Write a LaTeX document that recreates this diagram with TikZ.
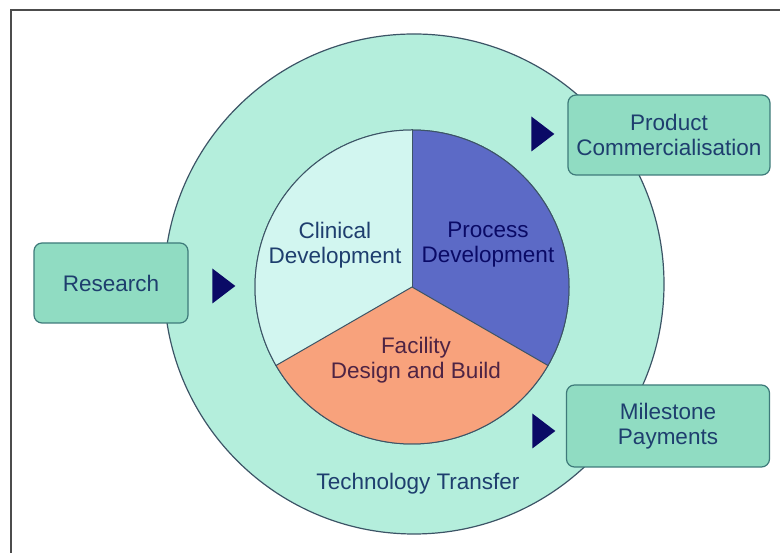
\documentclass[tikz,border=0pt]{standalone}
\usepackage{fontspec}
\setmainfont{Liberation Sans}
\usepackage{xcolor}
\usepackage{tikz}
\usetikzlibrary{shapes, shapes.geometric, positioning}

\definecolor{ringfill}{HTML}{B4EEDC}
\definecolor{clinfill}{HTML}{D2F6F0}
\definecolor{procfill}{HTML}{5C6AC6}
\definecolor{facfill}{HTML}{F8A27C}
\definecolor{boxfill}{HTML}{90DCC2}
\definecolor{boxline}{HTML}{3E7A7A}
\definecolor{edge}{HTML}{3C5466}
\definecolor{navy}{HTML}{0A0A66}
\definecolor{label}{HTML}{1E3E6E}
\definecolor{faclabel}{HTML}{4E2444}

\begin{document}
\begin{tikzpicture}
  [
    x=1pt, y=1pt,
    Ring/.style={circle, draw=edge, fill=ringfill, line width=1.2pt, inner sep=0pt, minimum size=500pt},
    Core/.style={circle, draw=edge, line width=1pt, inner sep=0pt, minimum size=314pt},
    Box/.style={rectangle, rounded corners=8pt, draw=boxline, fill=boxfill, line width=1.2pt, align=center, text=label, font=\fontsize{22.5}{25}\selectfont},
    Arrow/.style={isosceles triangle, isosceles triangle stretches, fill=navy, inner sep=0pt, minimum width=35pt, minimum height=23pt},
    Label/.style={align=center, text=label, font=\fontsize{22.5}{25}\selectfont}
  ]
  \useasboundingbox (0,0) rectangle (780,553);
  % Frame
  \draw[line width=1.5pt, black!70] (11,0) -- (11,543) -- (780,543);
  % Circles
  \node[Ring] (ring) at(414, 269) {};
  \node[Core] (core) at(412, 266) {};
  \path [fill=clinfill] (core.center) -- ++(90:157pt) arc[start angle=90, end angle=210, radius=157pt] -- cycle;
  \path [fill=procfill] (core.center) -- ++(-30:157pt) arc[start angle=-30, end angle=90, radius=157pt] -- cycle;
  \path [fill=facfill] (core.center) -- ++(210:157pt) arc[start angle=210, end angle=330, radius=157pt] -- cycle;
  \draw [edge, line width=1pt] (core.center) -- (core.90);
  \draw [edge, line width=1pt] (core.center) -- (core.210);
  \draw [edge, line width=1pt] (core.center) -- (core.330);
  \draw [edge, line width=1pt] (core) circle[radius=157pt];
  % Nodes
  \node[Box, minimum width=154pt, minimum height=80pt] (research) at(111, 270) {Research};
  \node[Box, minimum width=202pt, minimum height=80pt] (product) at(669, 418) {Product\\Commercialisation};
  \node[Box, minimum width=203pt, minimum height=82pt] (milestone) at(668, 127) {Milestone\\Payments};
  \node[Arrow] (a1) at(221, 267) {};
  \node[Arrow] (a2) at(540, 419) {};
  \node[Arrow] (a3) at(541, 122) {};
  % Labels
  \node[Label] (clinical) at(335, 308) {Clinical\\Development};
  \node[Label, text=navy] (process) at(488, 308) {Process\\Development};
  \node[Label, text=faclabel] (facility) at(416, 193) {Facility\\Design and Build};
  \node[Label] (transfer) at(418, 69) {Technology Transfer};
\end{tikzpicture}
\end{document}
